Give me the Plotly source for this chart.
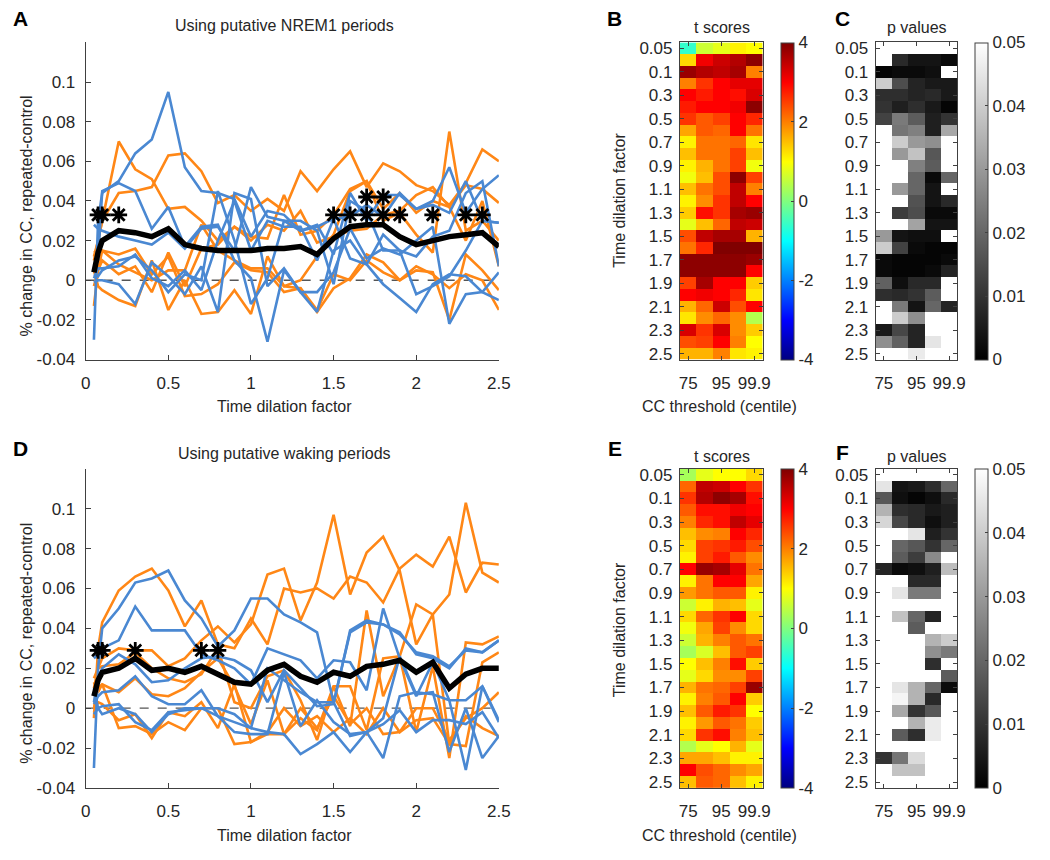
import plotly.graph_objects as go

W, H = 1050, 860

# ---------------- data ----------------
dilation = [0.05, 0.075, 0.1, 0.2, 0.3, 0.4, 0.5, 0.6, 0.7, 0.8, 0.9, 1.0, 1.1, 1.2,
            1.3, 1.4, 1.5, 1.6, 1.7, 1.8, 1.9, 2.0, 2.1, 2.2, 2.3, 2.4, 2.5]
dil_labels = ["0.05", "0.075", "0.1", "0.2", "0.3", "0.4", "0.5", "0.6", "0.7", "0.8", "0.9",
              "1", "1.1", "1.2", "1.3", "1.4", "1.5", "1.6", "1.7", "1.8", "1.9", "2", "2.1",
              "2.2", "2.3", "2.4", "2.5"]
dil_ticks = ["0.05", "0.1", "0.3", "0.5", "0.7", "0.9", "1.1", "1.3", "1.5", "1.7", "1.9",
             "2.1", "2.3", "2.5"]
centiles = ["75", "90", "95", "99", "99.9"]
centile_ticks = ["75", "95", "99.9"]

line_xticks = [0, 0.5, 1, 1.5, 2, 2.5]
line_xticktext = ["0", "0.5", "1", "1.5", "2", "2.5"]
line_yticks = [-0.04, -0.02, 0, 0.02, 0.04, 0.06, 0.08, 0.1]
line_yticktext = ["-0.04", "-0.02", "0", "0.02", "0.04", "0.06", "0.08", "0.1"]

# Panel A: NREM1 – individual lines
nrem_orange = [
    [0.010, 0.020, 0.030, 0.070, 0.056, 0.051, 0.036, 0.037, 0.030, 0.020, 0.027, 0.022, 0.021, 0.043,
     0.023, 0.025, 0.033, 0.046, 0.050, 0.036, 0.044, 0.034, 0.040, 0.037, 0.048, 0.046, 0.039],
    [0.012, 0.020, 0.030, 0.044, 0.045, 0.047, 0.063, 0.064, 0.055, 0.039, 0.043, 0.035, 0.041, 0.035,
     0.055, 0.045, 0.056, 0.065, 0.047, 0.059, 0.055, 0.048, 0.045, 0.038, 0.049, 0.066, 0.060],
    [-0.013, 0.005, 0.015, 0.013, 0.016, 0.003, 0.012, -0.008, -0.007, -0.002, 0.009, 0.005, 0.004, -0.006,
     -0.004, -0.016, -0.004, 0.001, 0.013, 0.009, 0.000, 0.005, 0.004, -0.020, 0.013, 0.005, -0.005],
    [-0.003, 0.005, 0.010, 0.003, 0.007, -0.006, 0.014, -0.003, 0.016, 0.018, 0.027, 0.020, 0.028, 0.025,
     0.035, 0.019, 0.022, 0.025, 0.026, 0.033, 0.035, 0.043, 0.047, 0.037, 0.020, 0.040, 0.007],
    [0.005, -0.003, -0.005, -0.010, -0.013, 0.010, -0.015, 0.000, -0.017, -0.016, -0.005, -0.017, 0.012, -0.003,
     -0.004, -0.015, 0.003, 0.000, 0.010, 0.004, 0.000, 0.007, 0.003, -0.004, 0.003, 0.000, -0.015],
    [0.014, 0.015, 0.015, 0.008, 0.004, 0.000, 0.005, 0.005, 0.028, 0.015, 0.010, 0.006, 0.006, -0.003,
     0.000, 0.012, 0.023, 0.045, 0.050, 0.030, 0.034, 0.023, 0.014, 0.075, 0.025, 0.030, 0.020],
]
nrem_blue = [
    [-0.030, 0.030, 0.044, 0.050, 0.064, 0.071, 0.095, 0.057, 0.045, 0.044, 0.041, 0.022, 0.035, 0.033,
     0.025, 0.027, 0.031, 0.032, 0.038, 0.032, 0.044, 0.036, 0.040, 0.057, 0.034, 0.046, 0.053],
    [0.028, 0.026, 0.025, 0.022, 0.020, 0.018, 0.024, 0.016, 0.026, 0.027, 0.015, 0.047, 0.032, 0.030,
     0.025, 0.028, 0.013, 0.044, 0.030, 0.043, 0.043, 0.036, 0.038, 0.034, 0.050, 0.030, 0.029],
    [0.001, 0.006, 0.006, 0.007, 0.013, 0.001, -0.003, 0.005, -0.005, 0.020, 0.040, 0.015, 0.030, 0.027,
     0.027, 0.010, 0.031, 0.011, 0.008, 0.023, 0.015, 0.012, 0.022, 0.025, 0.044, 0.050, 0.007],
    [-0.001, 0.000, 0.000, -0.002, -0.012, 0.009, 0.002, -0.007, 0.007, -0.016, 0.044, 0.041, -0.003, 0.006,
     -0.006, -0.016, 0.015, 0.020, 0.008, -0.002, -0.009, -0.016, -0.002, 0.003, 0.002, -0.006, -0.010],
    [0.005, 0.010, 0.045, 0.049, 0.045, 0.026, 0.037, 0.017, 0.027, 0.028, 0.010, 0.001, -0.031, 0.005,
     -0.006, -0.006, 0.004, 0.026, 0.011, 0.016, 0.013, 0.020, 0.027, -0.022, -0.007, -0.006, 0.004],
    [0.003, 0.002, 0.005, 0.010, 0.012, 0.005, -0.006, 0.003, 0.000, 0.045, 0.020, -0.012, 0.001, 0.030,
     0.030, 0.025, -0.002, 0.040, 0.035, 0.015, 0.015, -0.007, -0.003, 0.002, 0.015, 0.030, 0.029],
]
nrem_mean = [0.004, 0.014, 0.020, 0.025, 0.024, 0.022, 0.026, 0.018, 0.016, 0.015, 0.015, 0.015, 0.016, 0.016,
             0.017, 0.013, 0.021, 0.027, 0.028, 0.028, 0.022, 0.018, 0.020, 0.022, 0.023, 0.024, 0.017]
nrem_star_x = [0.075, 0.1, 0.2, 1.5, 1.6, 1.7, 1.8, 1.9, 2.1, 2.3, 2.4]
nrem_star_y = [0.033] * len(nrem_star_x)
nrem_star2_x = [1.7, 1.8]
nrem_star2_y = [0.042, 0.042]

# Panel D: waking – individual lines
wake_orange = [
    [-0.005, 0.030, 0.043, 0.059, 0.066, 0.070, 0.059, 0.041, 0.054, 0.032, 0.030, 0.045, 0.032, 0.060,
     0.058, 0.060, 0.055, 0.066, 0.063, 0.053, 0.070, 0.077, 0.071, 0.086, 0.058, 0.073, 0.072],
    [0.015, 0.020, 0.025, 0.030, 0.029, 0.029, 0.021, 0.025, 0.034, 0.041, 0.033, 0.042, 0.067, 0.070,
     0.044, 0.063, 0.097, 0.057, 0.078, 0.086, 0.069, 0.032, 0.047, 0.057, 0.103, 0.068, 0.063],
    [0.010, 0.020, 0.021, 0.022, 0.028, 0.020, 0.015, 0.013, 0.017, 0.030, 0.003, 0.000, 0.016, 0.019,
     0.004, -0.016, 0.011, -0.009, 0.049, 0.006, 0.026, -0.012, 0.021, -0.025, 0.033, 0.032, 0.036],
    [0.000, 0.010, 0.012, 0.008, 0.015, 0.007, 0.006, 0.010, 0.018, 0.025, 0.011, -0.008, 0.014, -0.013,
     -0.005, -0.011, 0.011, 0.011, -0.011, 0.025, 0.026, 0.052, 0.047, -0.018, -0.019, 0.023, 0.028],
    [-0.002, 0.003, 0.002, -0.006, -0.003, -0.015, -0.002, -0.004, 0.003, -0.010, 0.012, -0.017, -0.013, -0.013,
     0.000, -0.010, 0.006, -0.008, 0.000, -0.013, -0.012, 0.000, 0.000, -0.016, -0.005, 0.000, 0.008],
    [0.013, 0.008, 0.012, -0.010, -0.009, -0.013, -0.007, -0.011, 0.000, 0.000, -0.018, -0.017, -0.012, 0.000,
     -0.009, -0.004, -0.012, -0.005, -0.013, 0.000, -0.012, -0.006, -0.005, -0.018, -0.004, -0.010, -0.014],
]
wake_blue = [
    [-0.030, 0.020, 0.040, 0.050, 0.063, 0.065, 0.069, 0.054, 0.045, 0.031, 0.039, 0.055, 0.055, 0.047,
     0.043, 0.038, 0.003, 0.038, 0.043, 0.042, 0.038, 0.027, 0.025, 0.020, 0.030, 0.028, 0.034],
    [0.025, 0.027, 0.030, 0.034, 0.051, 0.039, 0.039, 0.039, 0.027, 0.024, 0.020, 0.012, 0.030, 0.027,
     0.024, 0.015, 0.024, 0.023, 0.009, 0.050, 0.025, 0.006, 0.023, 0.004, 0.004, 0.011, -0.006],
    [0.003, 0.015, 0.020, 0.027, 0.022, 0.013, 0.014, 0.020, 0.025, 0.026, 0.024, 0.019, 0.003, 0.019,
     0.010, 0.001, 0.002, 0.039, 0.044, 0.042, 0.037, 0.028, 0.026, 0.021, 0.029, 0.028, 0.034],
    [0.002, 0.006, 0.008, 0.009, 0.016, 0.006, 0.002, 0.002, 0.009, -0.004, -0.012, -0.013, -0.013, 0.018,
     -0.009, 0.004, -0.007, -0.013, -0.012, -0.005, 0.026, 0.007, 0.008, -0.022, 0.000, -0.025, -0.014],
    [-0.003, 0.000, 0.001, 0.002, -0.007, -0.011, -0.002, -0.001, 0.000, -0.004, -0.007, -0.010, 0.020, 0.014,
     0.008, 0.003, 0.003, -0.014, -0.012, -0.025, 0.006, 0.008, 0.007, 0.004, -0.031, 0.011, -0.007],
    [0.010, 0.000, -0.003, 0.000, -0.003, -0.012, -0.003, 0.000, 0.000, 0.000, -0.003, -0.010, -0.012, -0.013,
     -0.023, -0.018, -0.012, -0.022, -0.012, -0.008, -0.001, -0.012, -0.006, -0.006, -0.008, -0.002, -0.015],
]
wake_mean = [0.006, 0.014, 0.018, 0.020, 0.025, 0.019, 0.020, 0.018, 0.021, 0.017, 0.013, 0.012, 0.019, 0.022,
             0.016, 0.013, 0.018, 0.016, 0.021, 0.022, 0.024, 0.018, 0.023, 0.010, 0.017, 0.020, 0.020]
wake_star_x = [0.075, 0.1, 0.3, 0.7, 0.8]
wake_star_y = [0.029] * len(wake_star_x)

# Panel B: t scores (NREM1), rows = dilation, cols = centiles
t_nrem = [
    [-0.6, 0.6, 0.8, 1.1, 1.0], [1.3, 3.1, 3.4, 3.6, 3.9], [3.8, 3.6, 3.5, 3.7, 2.0],
    [2.0, 2.6, 3.0, 3.2, 3.2], [3.0, 2.8, 3.0, 2.9, 3.3], [2.8, 3.0, 3.0, 3.1, 3.9],
    [2.6, 2.3, 2.5, 3.0, 2.7], [1.7, 2.3, 2.2, 3.0, 2.1], [1.1, 2.1, 2.1, 2.2, 1.2],
    [1.5, 2.1, 2.1, 2.5, 1.5], [1.1, 1.6, 2.1, 2.5, 0.9], [0.9, 1.5, 2.4, 3.9, 2.5],
    [1.5, 2.1, 2.4, 3.5, 2.0], [1.1, 1.9, 2.6, 3.5, 3.0], [1.4, 2.9, 2.6, 3.7, 3.8],
    [0.8, 1.5, 2.2, 3.5, 3.4], [2.4, 3.5, 3.7, 3.7, 1.6], [2.1, 2.7, 4.0, 4.0, 4.0],
    [3.9, 3.9, 3.9, 3.9, 3.8], [3.9, 3.9, 3.9, 3.9, 3.0], [2.5, 3.7, 3.0, 3.0, 1.4],
    [3.0, 3.1, 3.0, 2.7, 1.2], [1.6, 2.2, 3.4, 2.4, 3.0], [1.2, 1.9, 2.2, 1.9, 0.4],
    [3.3, 2.6, 3.3, 1.9, 1.4], [2.4, 2.5, 3.0, 2.0, 1.0], [1.6, 1.6, 2.0, 1.2, 1.1],
]
# Panel C: p values (NREM1); values >= 0.05 shown white
p_nrem = [
    [0.2, 0.2, 0.2, 0.2, 0.2], [0.2, 0.008, 0.004, 0.004, 0.002], [0.001, 0.002, 0.002, 0.003, 0.2],
    [0.040, 0.015, 0.007, 0.005, 0.005], [0.009, 0.009, 0.007, 0.008, 0.005], [0.010, 0.006, 0.009, 0.005, 0.001],
    [0.013, 0.024, 0.018, 0.006, 0.010], [0.2, 0.023, 0.025, 0.006, 0.033], [0.2, 0.040, 0.030, 0.028, 0.2],
    [0.2, 0.030, 0.038, 0.017, 0.2], [0.2, 0.2, 0.025, 0.018, 0.2], [0.2, 0.2, 0.020, 0.002, 0.020],
    [0.2, 0.030, 0.020, 0.004, 0.2], [0.2, 0.2, 0.016, 0.004, 0.008], [0.2, 0.012, 0.015, 0.002, 0.002],
    [0.2, 0.2, 0.032, 0.004, 0.004], [0.030, 0.004, 0.003, 0.003, 0.2], [0.040, 0.013, 0.002, 0.001, 0.001],
    [0.002, 0.001, 0.001, 0.001, 0.002], [0.002, 0.001, 0.001, 0.002, 0.007], [0.019, 0.003, 0.008, 0.008, 0.2],
    [0.009, 0.008, 0.010, 0.018, 0.2], [0.2, 0.024, 0.004, 0.020, 0.007], [0.2, 0.040, 0.028, 0.2, 0.2],
    [0.005, 0.014, 0.007, 0.2, 0.2], [0.028, 0.019, 0.007, 0.045, 0.2], [0.2, 0.2, 0.046, 0.2, 0.2],
]
# Panel E: t scores (waking)
t_wake = [
    [0.3, 0.8, 1.0, 1.0, 1.3], [2.2, 3.5, 3.4, 3.0, 2.6], [2.6, 3.6, 3.9, 3.7, 2.9],
    [2.3, 2.9, 2.9, 3.1, 3.0], [2.0, 2.7, 2.9, 3.5, 3.2], [1.5, 1.9, 2.0, 3.0, 2.7],
    [1.3, 2.5, 2.6, 2.8, 2.4], [1.1, 2.5, 2.8, 2.3, 1.9], [3.0, 3.8, 3.7, 3.2, 2.1],
    [1.1, 2.1, 3.0, 3.0, 1.7], [1.8, 2.1, 2.3, 2.3, 1.1], [0.6, 1.1, 1.6, 1.5, 0.8],
    [1.3, 2.2, 2.6, 3.0, 1.3], [0.9, 1.7, 2.5, 1.9, 1.3], [0.6, 1.6, 2.0, 2.3, 2.1],
    [0.3, 0.7, 1.5, 2.3, 2.5], [1.0, 1.5, 2.0, 2.9, 1.4], [0.8, 1.3, 1.9, 1.9, 2.5],
    [1.6, 2.1, 2.2, 2.5, 3.8], [1.1, 2.0, 2.3, 3.0, 1.4], [1.5, 2.3, 2.8, 2.6, 1.0],
    [1.1, 1.8, 2.3, 2.1, 1.4], [1.3, 2.6, 2.9, 2.0, 1.5], [0.4, 0.8, 1.0, 1.6, 0.8],
    [1.7, 1.7, 1.5, 1.1, 1.1], [3.0, 2.4, 2.2, 1.9, 1.7], [1.5, 2.3, 2.2, 1.5, 1.1],
]
# Panel F: p values (waking)
p_wake = [
    [0.2, 0.2, 0.2, 0.2, 0.2], [0.045, 0.004, 0.005, 0.009, 0.020], [0.017, 0.003, 0.001, 0.003, 0.008],
    [0.035, 0.009, 0.008, 0.005, 0.006], [0.042, 0.014, 0.008, 0.003, 0.006], [0.2, 0.2, 0.045, 0.006, 0.010],
    [0.2, 0.020, 0.017, 0.010, 0.020], [0.2, 0.018, 0.012, 0.027, 0.2], [0.007, 0.002, 0.003, 0.006, 0.037],
    [0.2, 0.2, 0.008, 0.008, 0.2], [0.2, 0.045, 0.024, 0.024, 0.2], [0.2, 0.2, 0.2, 0.2, 0.2],
    [0.2, 0.038, 0.020, 0.007, 0.2], [0.2, 0.2, 0.018, 0.2, 0.2], [0.2, 0.2, 0.2, 0.035, 0.040],
    [0.2, 0.2, 0.2, 0.028, 0.024], [0.2, 0.2, 0.2, 0.009, 0.2], [0.2, 0.2, 0.2, 0.2, 0.018],
    [0.2, 0.045, 0.035, 0.020, 0.002], [0.2, 0.048, 0.035, 0.008, 0.2], [0.2, 0.033, 0.010, 0.017, 0.2],
    [0.2, 0.2, 0.035, 0.046, 0.2], [0.2, 0.018, 0.009, 0.046, 0.2], [0.2, 0.2, 0.2, 0.2, 0.2],
    [0.010, 0.023, 0.043, 0.2, 0.2], [0.2, 0.038, 0.038, 0.2, 0.2], [0.2, 0.2, 0.2, 0.2, 0.2],
]

t_cb_ticks = [-4, -2, 0, 2, 4]
t_cb_text = ["-4", "-2", "0", "2", "4"]
p_cb_ticks = [0, 0.01, 0.02, 0.03, 0.04, 0.05]
p_cb_text = ["0", "0.01", "0.02", "0.03", "0.04", "0.05"]

# ---------------- styling ----------------
FONT = "Arial, Liberation Sans, Helvetica, sans-serif"
TXT = "#262626"
AXC = "#404040"
ORANGE = "#FF8716"
BLUE = "#4A88D2"
JET = [[0.0, "rgb(0,0,128)"], [0.125, "rgb(0,0,255)"], [0.375, "rgb(0,255,255)"],
       [0.625, "rgb(255,255,0)"], [0.875, "rgb(255,0,0)"], [1.0, "rgb(128,0,0)"]]
GRAY = [[0.0, "rgb(0,0,0)"], [1.0, "rgb(255,255,255)"]]


def fx(p):
    return p / W


def fy(p):
    return 1 - p / H


fig = go.Figure()

rows = {"top": (40, 362), "bot": (473, 797)}


def add_line_panel(xa, ya, orange, blue, mean, stars, stars2):
    for s in orange:
        fig.add_trace(go.Scatter(x=dilation, y=s, mode="lines", xaxis=xa, yaxis=ya,
                                 line=dict(color=ORANGE, width=2.6), showlegend=False, hoverinfo="skip"))
    for s in blue:
        fig.add_trace(go.Scatter(x=dilation, y=s, mode="lines", xaxis=xa, yaxis=ya,
                                 line=dict(color=BLUE, width=2.6), showlegend=False, hoverinfo="skip"))
    fig.add_trace(go.Scatter(x=dilation, y=mean, mode="lines", xaxis=xa, yaxis=ya,
                             line=dict(color="black", width=5.5), showlegend=False))
    for sx, sy in (stars, stars2):
        if sx:
            fig.add_trace(go.Scatter(x=sx, y=sy, mode="markers", xaxis=xa, yaxis=ya,
                                     marker=dict(symbol="asterisk-open", size=14, color="black",
                                                 line=dict(color="black", width=2.8)),
                                     showlegend=False))


add_line_panel("x", "y", nrem_orange, nrem_blue, nrem_mean,
               (nrem_star_x, nrem_star_y), (nrem_star2_x, nrem_star2_y))
add_line_panel("x4", "y4", wake_orange, wake_blue, wake_mean,
               (wake_star_x, wake_star_y), ([], []))


def cbar(ypx, xpx, ticks, text):
    y0, y1 = ypx
    return dict(x=fx(xpx), xanchor="left", y=fy(y1), yanchor="bottom",
                len=(y1 - y0) / H, lenmode="fraction", thickness=13, thicknessmode="pixels",
                outlinecolor=AXC, outlinewidth=1, xpad=0, ypad=0,
                tickvals=ticks, ticktext=text, ticks="inside", ticklen=3, tickcolor=AXC,
                tickfont=dict(family=FONT, size=17, color=TXT))


fig.add_trace(go.Heatmap(z=t_nrem, x=centiles, y=dil_labels, xaxis="x2", yaxis="y2",
                         colorscale=JET, zmin=-4, zmax=4,
                         colorbar=cbar(rows["top"], 789, t_cb_ticks, t_cb_text)))
fig.add_trace(go.Heatmap(z=p_nrem, x=centiles, y=dil_labels, xaxis="x3", yaxis="y3",
                         colorscale=GRAY, zmin=0, zmax=0.05,
                         colorbar=cbar(rows["top"], 986, p_cb_ticks, p_cb_text)))
fig.add_trace(go.Heatmap(z=t_wake, x=centiles, y=dil_labels, xaxis="x5", yaxis="y5",
                         colorscale=JET, zmin=-4, zmax=4,
                         colorbar=cbar(rows["bot"], 789, t_cb_ticks, t_cb_text)))
fig.add_trace(go.Heatmap(z=p_wake, x=centiles, y=dil_labels, xaxis="x6", yaxis="y6",
                         colorscale=GRAY, zmin=0, zmax=0.05,
                         colorbar=cbar(rows["bot"], 986, p_cb_ticks, p_cb_text)))

tickfont = dict(family=FONT, size=17, color=TXT)


def line_x(ypx, anchor):
    return dict(domain=[fx(82), fx(502)], anchor=anchor, range=[0, 2.5],
                tickvals=line_xticks, ticktext=line_xticktext, ticks="inside", ticklen=5,
                tickcolor=AXC, showline=True, linecolor=AXC, linewidth=1, showgrid=False,
                zeroline=False, tickfont=tickfont, ticklabelstandoff=8)


def line_y(ypx, anchor):
    y0, y1 = ypx
    return dict(domain=[fy(y1), fy(y0)], anchor=anchor, range=[-0.04, 0.12],
                tickvals=line_yticks, ticktext=line_yticktext, ticks="inside", ticklen=5,
                tickcolor=AXC, showline=True, linecolor=AXC, linewidth=1, showgrid=False,
                zeroline=False, tickfont=tickfont, ticklabelstandoff=6)


def heat_x(x0, x1, anchor):
    return dict(domain=[fx(x0), fx(x1)], anchor=anchor, type="category",
                tickvals=centile_ticks, ticktext=centile_ticks, ticks="inside", ticklen=4,
                tickcolor=AXC, showline=True, mirror="ticks", linecolor=AXC, linewidth=1,
                showgrid=False, zeroline=False, tickfont=tickfont, ticklabelstandoff=8)


def heat_y(ypx, anchor):
    y0, y1 = ypx
    return dict(domain=[fy(y1), fy(y0)], anchor=anchor, type="category", autorange="reversed",
                tickvals=dil_ticks, ticktext=dil_ticks, ticks="inside", ticklen=4,
                tickcolor=AXC, showline=True, mirror="ticks", linecolor=AXC, linewidth=1,
                showgrid=False, zeroline=False, tickfont=tickfont, ticklabelstandoff=3)


fig.update_layout(
    width=W, height=H, margin=dict(l=0, r=0, t=0, b=0),
    paper_bgcolor="white", plot_bgcolor="white", showlegend=False,
    font=dict(family=FONT, color=TXT),
    xaxis=line_x(rows["top"], "y"), yaxis=line_y(rows["top"], "x"),
    xaxis4=line_x(rows["bot"], "y4"), yaxis4=line_y(rows["bot"], "x4"),
    xaxis2=heat_x(686, 770, "y2"), yaxis2=heat_y(rows["top"], "x2"),
    xaxis3=heat_x(885, 968, "y3"), yaxis3=heat_y(rows["top"], "x3"),
    xaxis5=heat_x(686, 770, "y5"), yaxis5=heat_y(rows["bot"], "x5"),
    xaxis6=heat_x(885, 968, "y6"), yaxis6=heat_y(rows["bot"], "x6"),
)

# zero reference lines
for xr, yr in (("x", "y"), ("x4", "y4")):
    fig.add_shape(type="line", xref=f"{xr} domain", yref=yr, x0=0, x1=1, y0=0, y1=0,
                  line=dict(color="#555555", width=1.3, dash="dash"), layer="below")

ann = []


def text(x, y, s, size=15, bold=False, angle=0):
    ann.append(dict(x=fx(x), y=fy(y), xref="paper", yref="paper", text=f"<b>{s}</b>" if bold else s,
                    showarrow=False, textangle=angle, xanchor="center", yanchor="middle",
                    font=dict(family=FONT, size=size, color="black" if bold else TXT)))


# panel letters
text(16, 16, "A", 21, True)
text(16, 452, "D", 21, True)
text(620, 16, "B", 21, True)
text(620, 452, "E", 21, True)
text(851, 16, "C", 21, True)
text(851, 456, "F", 21, True)
# titles
text(284, 23, "Using putative NREM1 periods", 16)
text(284, 457, "Using putative waking periods", 16)
text(729, 25, "t scores", 16)
text(729, 460, "t scores", 16)
text(927, 25, "p values", 16)
text(927, 460, "p values", 16)
# axis titles
text(284, 410, "Time dilation factor", 16)
text(284, 845, "Time dilation factor", 16)
text(22, 216, "% change in CC, repeated-control", 16, angle=-90)
text(22, 650, "% change in CC, repeated-control", 16, angle=-90)
text(726, 410, "CC threshold (centile)", 16)
text(726, 845, "CC threshold (centile)", 16)
text(625, 200, "Time dilation factor", 16, angle=-90)
text(625, 636, "Time dilation factor", 16, angle=-90)

fig.update_layout(annotations=ann)
# remove the browser's default 8px body margin so the figure fills the window exactly
fig.write_html("out.html", config={"displayModeBar": False},
               post_script="document.body.style.margin='0';document.body.style.overflow='hidden';")
